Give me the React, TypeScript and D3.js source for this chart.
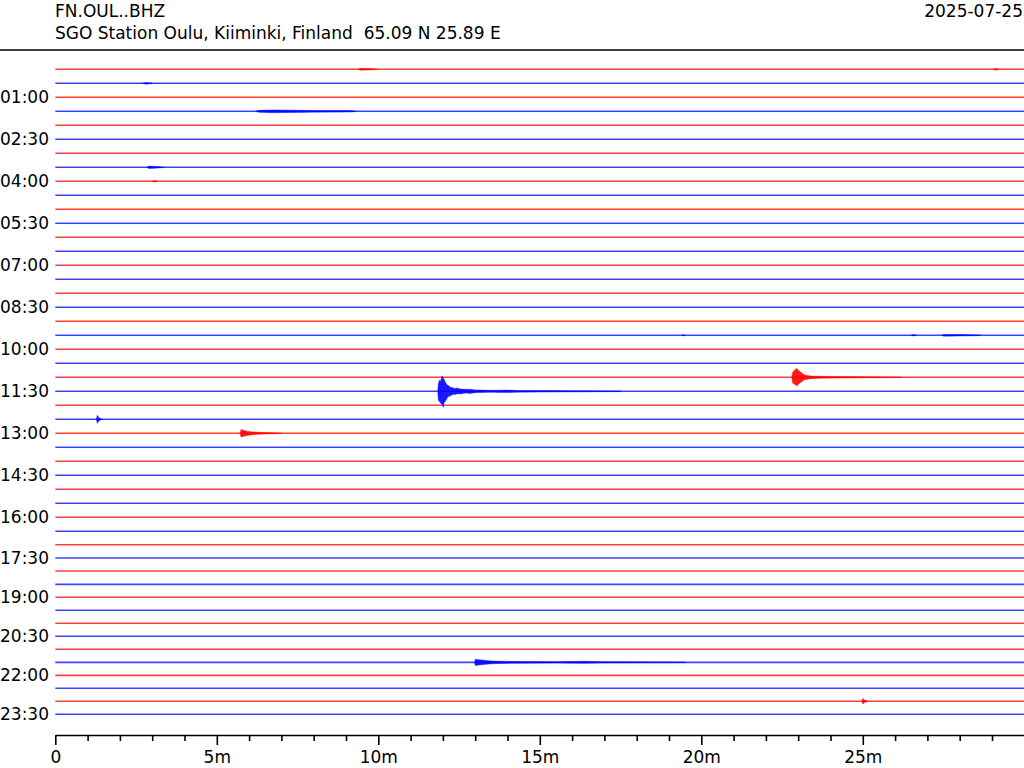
import React, { useEffect, useRef } from 'react';
import * as d3 from 'd3';

// ---------- DATA ----------
const stationCode = 'FN.OUL..BHZ';
const stationInfo = 'SGO Station Oulu, Kiiminki, Finland  65.09 N 25.89 E';
const dateLabel = '2025-07-25';

// one trace per 30 min (48 traces); DC offset of each trace (in trace spacings, upward)
const traceOffsets = [
  0, 0, 0, 0, 0, 0, 0, 0, 0, 0, 0, 0, 0, 0, 0, 0,
  0, 0, 0, 0, 0, 0, 0, 0, 0, 0, 0, 0, 0, 0, 0, 0,
  0, 0, 0.04, 0.09, 0.16, 0.21, 0.29, 0.36, 0.43, 0.5, 0.57, 0.64, 0.71, 0.79, 0.86, 0.93,
];
const traceColors = ['#ff0000', '#0000ff'];

const yTickIndex = [2, 5, 8, 11, 14, 17, 20, 23, 26, 29, 32, 35, 38, 41, 44, 47];
const yTickLabels = [
  '01:00', '02:30', '04:00', '05:30', '07:00', '08:30', '10:00', '11:30',
  '13:00', '14:30', '16:00', '17:30', '19:00', '20:30', '22:00', '23:30',
];

const xDomain = [0, 30];
const xTickValues = [0, 5, 10, 15, 20, 25];
const xTickLabels = ['0', '5m', '10m', '15m', '20m', '25m'];
const xMinorTicks = [
  1, 2, 3, 4, 6, 7, 8, 9, 11, 12, 13, 14, 16, 17, 18, 19, 21, 22, 23, 24, 26, 27, 28, 29,
];

// seismic events: trace index + envelope [minute, up, down] in trace-spacing units
const eventTraces = [23, 22, 43, 26, 25, 3, 46, 0, 0, 1, 7, 8, 19, 19, 19];
const eventEnvelopes: number[][][] = [
  [
    [11.84, 0, 0], [11.86, 0.57, 0.64], [11.9, 0.8, 0.75], [11.93, 0.7, 0.86], [11.97, 1.11, 0.9],
    [12.01, 0.95, 1.14], [12.04, 0.85, 0.8], [12.08, 0.62, 0.7], [12.13, 0.45, 0.5], [12.18, 0.4, 0.34],
    [12.22, 0.3, 0.36], [12.3, 0.26, 0.22], [12.38, 0.2, 0.22], [12.45, 0.24, 0.18], [12.53, 0.17, 0.19],
    [12.7, 0.14, 0.13], [12.84, 0.15, 0.15], [13.0, 0.1, 0.1], [13.15, 0.09, 0.09], [13.5, 0.07, 0.07],
    [13.77, 0.08, 0.08], [14.0, 0.09, 0.09], [14.3, 0.06, 0.06], [15.0, 0.05, 0.05], [16.0, 0.04, 0.04],
    [17.5, 0.02, 0.02],
  ],
  [
    [22.8, 0, 0], [22.83, 0.36, 0.43], [22.9, 0.55, 0.5], [22.95, 0.62, 0.62], [23.02, 0.48, 0.48],
    [23.11, 0.3, 0.3], [23.2, 0.17, 0.17], [23.37, 0.1, 0.1], [23.68, 0.07, 0.07], [24.3, 0.05, 0.05],
    [26.2, 0.02, 0.02],
  ],
  [
    [12.98, 0, 0], [13.0, 0.22, 0.22], [13.2, 0.17, 0.17], [13.5, 0.1, 0.1], [13.77, 0.08, 0.08],
    [14.28, 0.06, 0.06], [15.5, 0.04, 0.04], [16.4, 0.07, 0.07], [16.9, 0.04, 0.04], [19.5, 0.02, 0.02],
  ],
  [
    [5.72, 0, 0], [5.75, 0.27, 0.27], [5.9, 0.17, 0.17], [6.1, 0.1, 0.1], [6.5, 0.05, 0.05], [7.0, 0.02, 0.02],
  ],
  [
    [1.27, 0, 0], [1.3, 0.29, 0.29], [1.36, 0.08, 0.08], [1.45, 0.02, 0.02],
  ],
  [
    [6.2, 0, 0], [6.3, 0.07, 0.07], [6.7, 0.1, 0.1], [7.5, 0.08, 0.08], [8.0, 0.06, 0.06],
    [9.1, 0.05, 0.05], [9.3, 0.02, 0.02],
  ],
  [
    [24.97, 0, 0], [25.0, 0.2, 0.2], [25.06, 0.08, 0.08], [25.15, 0.02, 0.02],
  ],
  [
    [9.35, 0, 0], [9.45, 0.06, 0.06], [9.7, 0.05, 0.05], [9.95, 0.02, 0.02],
  ],
  [
    [29.05, 0, 0], [29.1, 0.06, 0.06], [29.2, 0.02, 0.02],
  ],
  [
    [2.7, 0, 0], [2.8, 0.06, 0.06], [3.0, 0.02, 0.02],
  ],
  [
    [2.83, 0, 0], [2.9, 0.09, 0.09], [3.1, 0.06, 0.06], [3.35, 0.02, 0.02],
  ],
  [
    [3.0, 0, 0], [3.05, 0.05, 0.05], [3.15, 0.02, 0.02],
  ],
  [
    [26.5, 0, 0], [26.55, 0.05, 0.05], [26.65, 0.02, 0.02],
  ],
  [
    [27.45, 0, 0], [27.5, 0.06, 0.06], [28.0, 0.05, 0.05], [28.65, 0.02, 0.02],
  ],
  [
    [19.4, 0, 0], [19.42, 0.04, 0.04], [19.5, 0.02, 0.02],
  ],
];

// ---------- CHART ----------
const W = 1024;
const H = 768;
const FONT = 'DejaVu Sans, sans-serif';
const FS = 17;

export default function App() {
  const axisRef = useRef<SVGGElement>(null);

  const x = d3.scaleLinear().domain(xDomain).range([55.3, 1024.3]);
  const y = d3.scaleLinear().domain([0, traceOffsets.length - 1]).range([69.3, 727.3]);
  const pos = (i: number) => i - traceOffsets[i];

  useEffect(() => {
    if (!axisRef.current) return;
    const g = d3.select(axisRef.current);
    g.selectAll('*').remove();
    const major = d3
      .axisBottom(x)
      .tickValues(xTickValues)
      .tickFormat((_d, i) => xTickLabels[i])
      .tickSize(10)
      .tickSizeOuter(0)
      .tickPadding(6);
    const minor = d3
      .axisBottom(x)
      .tickValues(xMinorTicks)
      .tickFormat(() => '')
      .tickSize(6)
      .tickSizeOuter(0);
    const gMinor = g.append('g').call(minor);
    gMinor.select('.domain').remove();
    gMinor.selectAll('line').attr('stroke', '#000').attr('stroke-width', 1.6);
    const gMajor = g.append('g').call(major);
    gMajor.select('.domain').attr('stroke', '#000').attr('stroke-width', 1.6);
    gMajor.selectAll('line').attr('stroke', '#000').attr('stroke-width', 1.6);
    gMajor
      .selectAll('text')
      .attr('font-family', FONT)
      .attr('font-size', FS)
      .attr('fill', '#000');
  }, []);

  const baseLine = d3.line<number>().x((d) => x(d)).y(0);
  const area = d3
    .area<number[]>()
    .x((d) => x(d[0]))
    .curve(d3.curveLinear);

  return (
    <svg
      width={W}
      height={H}
      style={{ position: 'absolute', left: 0, top: 0, background: '#fff' }}
      fontFamily={FONT}
    >
      <rect x={0} y={0} width={W} height={H} fill="#fff" />
      <text x={55} y={16.5} fontSize={FS} fill="#000">{stationCode}</text>
      <text x={55} y={38.5} fontSize={FS} fill="#000" style={{ whiteSpace: 'pre' }}>
        {stationInfo}
      </text>
      <text x={1023} y={16.5} fontSize={FS} fill="#000" textAnchor="end">{dateLabel}</text>
      <line x1={0} x2={W} y1={50} y2={50} stroke="#000" strokeWidth={1.5} />

      {traceOffsets.map((_o, i) => (
        <path
          key={'t' + i}
          d={baseLine(xDomain) || ''}
          transform={`translate(0,${y(pos(i))})`}
          stroke={traceColors[i % 2]}
          strokeWidth={1.6}
          strokeOpacity={0.75}
          fill="none"
        />
      ))}

      {eventEnvelopes.map((env, k) => {
        const i = eventTraces[k];
        const p = pos(i);
        const gen = area.y0((d) => y(p + d[2])).y1((d) => y(p - d[1]));
        return (
          <path
            key={'e' + k}
            d={gen(env) || ''}
            fill={traceColors[i % 2]}
            fillOpacity={0.9}
            stroke={traceColors[i % 2]}
            strokeWidth={0.5}
            strokeOpacity={0.8}
          />
        );
      })}

      {yTickIndex.map((ti, k) => (
        <text
          key={'y' + k}
          x={49}
          y={y(pos(ti))}
          dy="0.36em"
          textAnchor="end"
          fontSize={FS}
          fill="#000"
        >
          {yTickLabels[k]}
        </text>
      ))}

      <g ref={axisRef} transform="translate(0,735)" />
    </svg>
  );
}
